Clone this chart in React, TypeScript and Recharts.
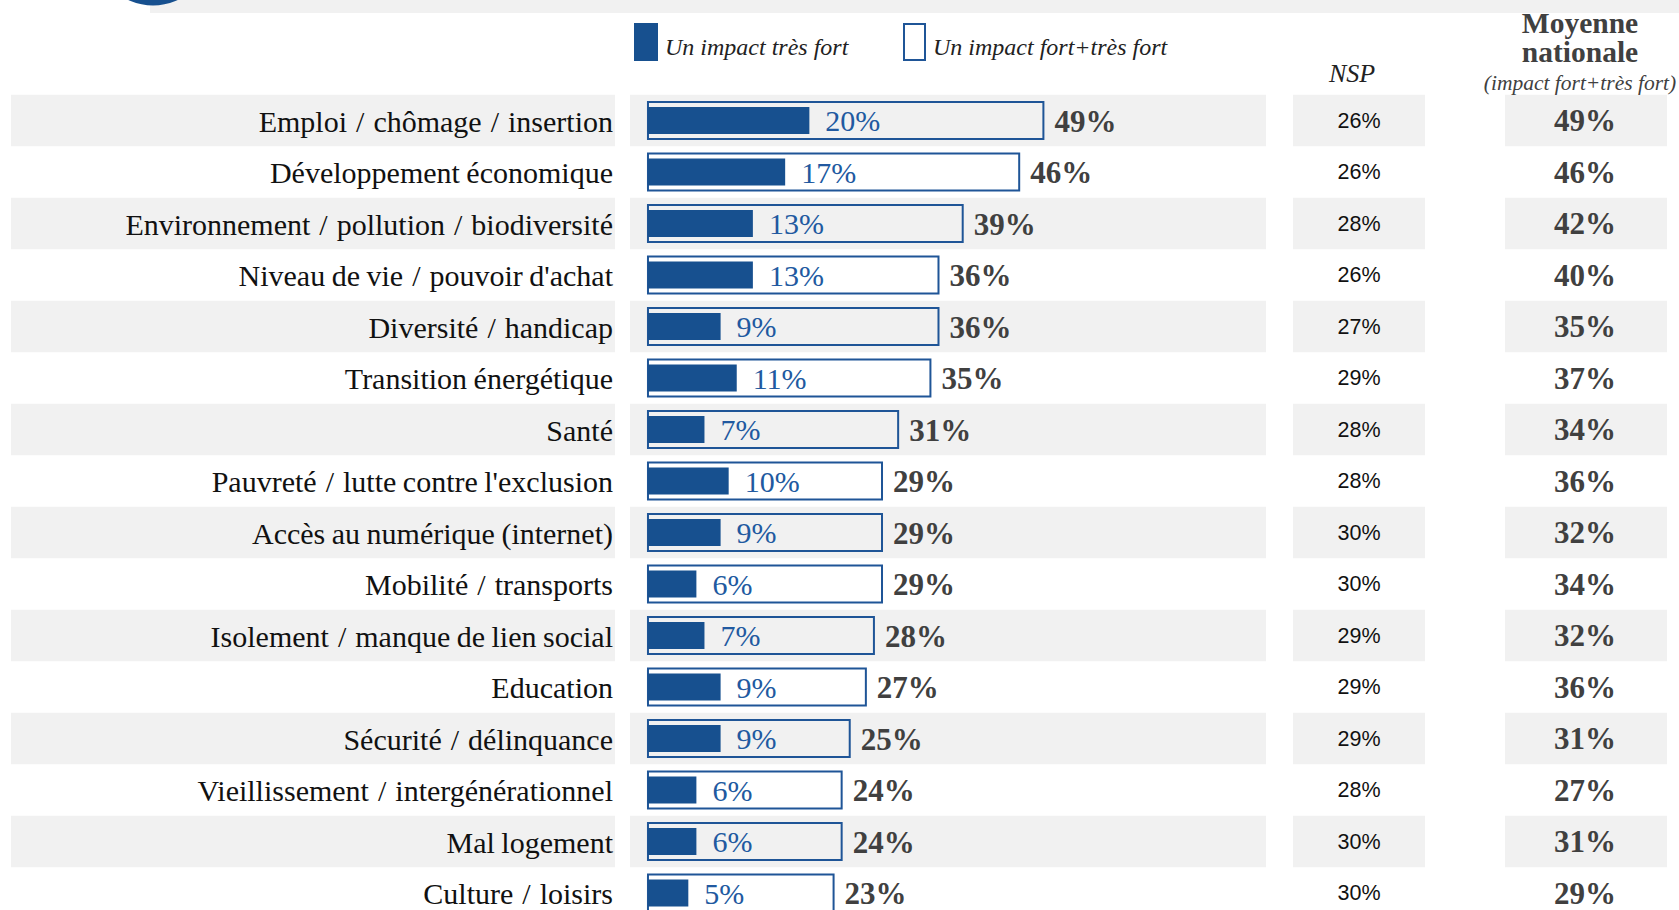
import { BarChart, Bar, XAxis, YAxis, LabelList, Legend } from "recharts";

const themes = [
  "Emploi / chômage / insertion",
  "Développement économique",
  "Environnement / pollution / biodiversité",
  "Niveau de vie / pouvoir d'achat",
  "Diversité / handicap",
  "Transition énergétique",
  "Santé",
  "Pauvreté / lutte contre l'exclusion",
  "Accès au numérique (internet)",
  "Mobilité / transports",
  "Isolement / manque de lien social",
  "Education",
  "Sécurité / délinquance",
  "Vieillissement / intergénérationnel",
  "Mal logement",
  "Culture / loisirs",
];
const tresFort = [20, 17, 13, 13, 9, 11, 7, 10, 9, 6, 7, 9, 9, 6, 6, 5];
const fortTresFort = [49, 46, 39, 36, 36, 35, 31, 29, 29, 29, 28, 27, 25, 24, 24, 23];
const nsp = [26, 26, 28, 26, 27, 29, 28, 28, 30, 30, 29, 29, 29, 28, 30, 30];
const moyenneNationale = [49, 46, 42, 40, 35, 37, 34, 36, 32, 34, 32, 36, 31, 27, 31, 29];
const legendLabels = ["Un impact très fort", "Un impact fort+très fort"];

const W = 1679;
const H = 910;
const TOP = 95;
const ROW_H = 51.5;
const CHART_H = TOP + ROW_H * themes.length;

const BLUE = "#17508f";
const BLUE_LINE = "#1f5597";
const BLUE_TEXT = "#2159a0";
const DARK = "#404040";
const GREY = "#f1f1f1";
const SERIF = '"Liberation Serif", "Times New Roman", serif';
const SANS = '"Liberation Sans", Arial, sans-serif';

// grey strips of a highlighted row: labels, bars, NSP, national average
const stripes = [
  [11, 615],
  [630, 1266],
  [1293, 1425],
  [1505, 1667],
];
const COL_LABEL = 613;
const COL_NSP = 1359;
const COL_MOY = 1585;
const SLASH_GAP = 2.5;

const data = themes.map((label, i) => ({
  label,
  tresFort: tresFort[i],
  fort: fortTresFort[i],
}));

// the slashes in the source get a bit more air than ordinary spaces
function labelParts(label: string) {
  const parts = label.split(" / ");
  const out: any[] = [];
  parts.forEach((p, k) => {
    if (k === 0) {
      out.push(<tspan key="p0">{p}</tspan>);
    } else {
      out.push(
        <tspan key={"s" + k} dx={SLASH_GAP}>
          {" /"}
        </tspan>
      );
      out.push(
        <tspan key={"p" + k} dx={SLASH_GAP}>
          {" " + p}
        </tspan>
      );
    }
  });
  return out;
}

function RowBand(props: any) {
  const { y, height, index } = props;
  if (index % 2 !== 0) return <g />;
  const top = y + height / 2 - ROW_H / 2;
  return (
    <g>
      {stripes.map(([x1, x2]) => (
        <rect key={x1} x={x1} y={top} width={x2 - x1} height={ROW_H} fill={GREY} />
      ))}
    </g>
  );
}

function RowTick(props: any) {
  const { y, payload } = props;
  const i = themes.indexOf(payload.value);
  return (
    <g>
      <text
        x={COL_LABEL}
        y={y}
        textAnchor="end"
        dominantBaseline="central"
        fontFamily={SERIF}
        fontSize={30}
        wordSpacing={-1}
        fill="#111"
      >
        {labelParts(payload.value)}
      </text>
      <text x={COL_NSP} y={y} textAnchor="middle" dominantBaseline="central" fontFamily={SANS} fontSize={21.5} fill="#111">
        {nsp[i]}%
      </text>
      <text x={COL_MOY} y={y} textAnchor="middle" dominantBaseline="central" fontFamily={SERIF} fontSize={31} fontWeight="bold" fill={DARK}>
        {moyenneNationale[i]}%
      </text>
    </g>
  );
}

function LegendContent() {
  return (
    <svg width={W} height={TOP} style={{ display: "block" }}>
      <rect x={634} y={23} width={24} height={38} fill={BLUE} />
      <text x={665} y={47} dominantBaseline="central" fontFamily={SERIF} fontStyle="italic" fontSize={24} fill="#222">
        {legendLabels[0]}
      </text>
      <rect x={904} y={24} width={21} height={36} fill="#fff" stroke={BLUE_LINE} strokeWidth={2} />
      <text x={933} y={47} dominantBaseline="central" fontFamily={SERIF} fontStyle="italic" fontSize={24} fill="#222">
        {legendLabels[1]}
      </text>
    </svg>
  );
}

function Header() {
  return (
    <svg width={W} height={TOP} style={{ position: "absolute", top: 0, left: 0, pointerEvents: "none" }}>
      <rect x={150} y={0} width={W - 150} height={13} fill={GREY} />
      <circle cx={153} cy={-53} r={58.5} fill={BLUE} />
      <text x={1352} y={73} textAnchor="middle" dominantBaseline="central" fontFamily={SERIF} fontStyle="italic" fontSize={26} fill="#222">
        NSP
      </text>
      <text x={1580} y={23} textAnchor="middle" dominantBaseline="central" fontFamily={SERIF} fontWeight="bold" fontSize={29.5} fill={DARK}>
        Moyenne
      </text>
      <text x={1580} y={52} textAnchor="middle" dominantBaseline="central" fontFamily={SERIF} fontWeight="bold" fontSize={29.5} fill={DARK}>
        nationale
      </text>
      <text x={1580} y={83} textAnchor="middle" dominantBaseline="central" fontFamily={SERIF} fontStyle="italic" fontSize={21.5} fill={DARK}>
        (impact fort+très fort)
      </text>
    </svg>
  );
}

export default function App() {
  return (
    <div style={{ position: "relative", width: W, height: H, overflow: "hidden", background: "#fff" }}>
      <style>{"body{margin:0}"}</style>
      <BarChart
        width={W}
        height={CHART_H}
        data={data}
        layout="vertical"
        margin={{ top: TOP, right: 0, bottom: 0, left: 0 }}
      >
        <XAxis type="number" domain={[-80.17, 127.76]} allowDataOverflow hide />
        <YAxis
          yAxisId="rows"
          type="category"
          dataKey="label"
          width={1}
          axisLine={false}
          tickLine={false}
          interval={0}
          tick={<RowTick />}
        />
        <YAxis yAxisId="inner" type="category" dataKey="label" hide />
        <Legend
          layout="horizontal"
          verticalAlign="middle"
          align="center"
          wrapperStyle={{ position: "absolute", top: 0, left: 0, width: W, height: TOP }}
          content={<LegendContent />}
        />
        <Bar
          yAxisId="rows"
          dataKey="fort"
          name={legendLabels[1]}
          barSize={37}
          fill="none"
          stroke={BLUE_LINE}
          strokeWidth={2}
          background={<RowBand />}
          isAnimationActive={false}
        >
          <LabelList
            dataKey="fort"
            position="right"
            offset={11}
            formatter={(v: any) => `${v}%`}
            fill={DARK}
            fontSize={31}
            fontWeight="bold"
            fontFamily={SERIF}
          />
        </Bar>
        <Bar
          yAxisId="inner"
          dataKey="tresFort"
          name={legendLabels[0]}
          barSize={27}
          fill={BLUE}
          isAnimationActive={false}
        >
          <LabelList
            dataKey="tresFort"
            position="right"
            offset={16}
            formatter={(v: any) => `${v}%`}
            fill={BLUE_TEXT}
            fontSize={30}
            fontFamily={SERIF}
          />
        </Bar>
      </BarChart>
      <Header />
    </div>
  );
}
